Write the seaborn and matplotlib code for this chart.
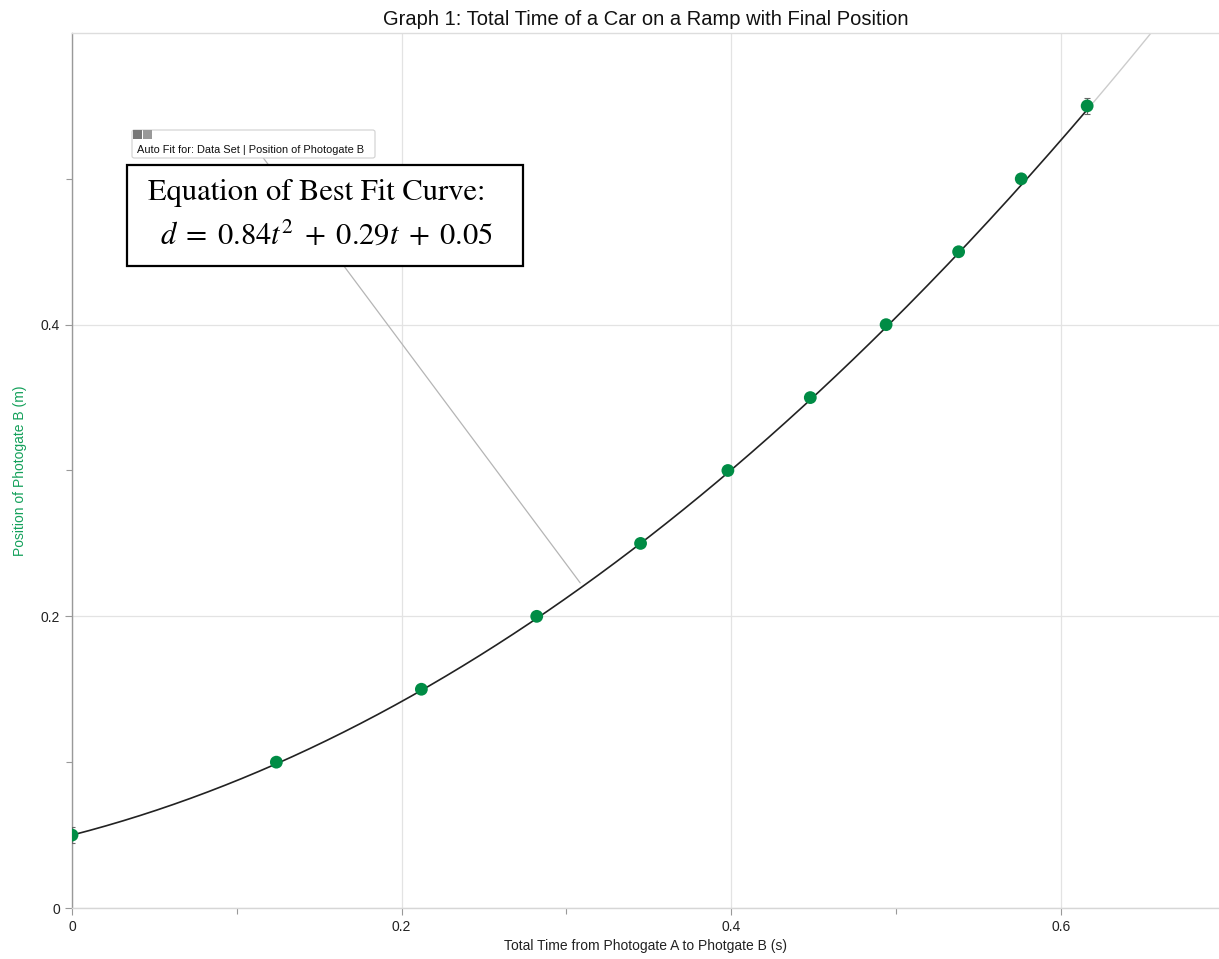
import numpy as np
import pandas as pd
import matplotlib
matplotlib.use("Agg")
import matplotlib.pyplot as plt
import seaborn as sns
from matplotlib.ticker import FixedLocator
from matplotlib.patches import Rectangle, FancyBboxPatch

# ---- data ----
time_s = [0.0, 0.124, 0.212, 0.282, 0.345, 0.398, 0.448, 0.494, 0.538, 0.576, 0.616]
position_m = [0.05, 0.10, 0.15, 0.20, 0.25, 0.30, 0.35, 0.40, 0.45, 0.50, 0.55]
fit_coeffs = [0.84, 0.29, 0.05]  # d = a t^2 + b t + c
x_ticks = [0, 0.2, 0.4, 0.6]
y_ticks = [0, 0.2, 0.4]
title = "Graph 1: Total Time of a Car on a Ramp with Final Position"
x_label = "Total Time from Photogate A to Photgate B (s)"
y_label = "Position of Photogate B (m)"

sns.set_style("white")
plt.rcParams['font.family'] = ['Liberation Sans', 'DejaVu Sans']
plt.rcParams['mathtext.fontset'] = 'stix'

fig = plt.figure(figsize=(12.19, 9.59), dpi=100)
ax = fig.add_axes([72/1219, 51/959, 1 - 72/1219, (908-33)/959])

xmax, ymax = 0.696, 0.6
ax.set_xlim(0, xmax)
ax.set_ylim(0, ymax)

# fit curve: black over data range, grey extension beyond
t_in = np.linspace(min(time_s), max(time_s), 300)
t_out = np.linspace(max(time_s), xmax, 100)
fit_in = pd.DataFrame({"t": t_in, "d": np.polyval(fit_coeffs, t_in)})
fit_out = pd.DataFrame({"t": t_out, "d": np.polyval(fit_coeffs, t_out)})
sns.lineplot(data=fit_out, x="t", y="d", ax=ax, color="#cccccc", linewidth=1.0, zorder=2)
sns.lineplot(data=fit_in, x="t", y="d", ax=ax, color="#222222", linewidth=1.2, zorder=3)

# small error brackets at first and last points
for i in [0, len(time_s) - 1]:
    ax.errorbar(time_s[i], position_m[i], yerr=0.0055, fmt="none", ecolor="#666666",
                elinewidth=0.8, capsize=2.5, capthick=0.8, zorder=3)

pts = pd.DataFrame({"t": time_s, "d": position_m})
sns.scatterplot(data=pts, x="t", y="d", ax=ax, color="#008C45", s=85, edgecolor="none", zorder=4)

# ticks and grid
ax.xaxis.set_major_locator(FixedLocator(x_ticks))
ax.yaxis.set_major_locator(FixedLocator(y_ticks))
ax.xaxis.set_minor_locator(FixedLocator([0.1, 0.3, 0.5]))
ax.yaxis.set_minor_locator(FixedLocator([0.1, 0.3, 0.5]))
ax.set_xticklabels(["0", "0.2", "0.4", "0.6"])
ax.set_yticklabels(["0", "0.2", "0.4"])
ax.grid(True, which="major", color="#e3e3e3", linewidth=0.9, zorder=0)
ax.set_axisbelow(True)
ax.tick_params(axis="both", which="major", direction="out", length=5, width=0.8,
               color="#999999", labelsize=10, labelcolor="#222222", bottom=True, left=True)
ax.tick_params(axis="both", which="minor", direction="out", length=4, width=0.8,
               color="#999999", bottom=True, left=True)

for name, sp in ax.spines.items():
    sp.set_linewidth(1.0)
ax.spines["left"].set_color("#999999")
ax.spines["bottom"].set_color("#d6d6d6")
ax.spines["top"].set_color("#dddddd")
ax.spines["right"].set_visible(False)

ax.set_xlabel(x_label, fontsize=10, color="#222222", labelpad=4)
ax.set_ylabel(y_label, fontsize=10, color="#13a05a", va="center")
ax.yaxis.set_label_coords(-52/1147, 0.5)
ax.set_title(title, fontsize=14.5, color="#111111", pad=6)

# leader line from auto fit label to curve
ax.plot([(263-72)/1647.5, (580-72)/1647.5], [(908-158)/1457.5, (908-583)/1457.5],
        color="#b5b5b5", linewidth=0.9, zorder=2)

# auto fit label box
fig.patches.append(FancyBboxPatch((132/1219, 1 - 158/959), (375-132)/1219, (158-130)/959,
                                  boxstyle="round,pad=0,rounding_size=0.002",
                                  transform=fig.transFigure, fc="white", ec="#d0d0d0",
                                  lw=0.8, zorder=5))
fig.text(137/1219, 1 - 150/959, "Auto Fit for: Data Set | Position of Photogate B",
         fontsize=7.9, color="#111111", va="center", ha="left", zorder=6)
fig.patches.append(Rectangle((133/1219, 1 - 139/959), 9/1219, 9/959, transform=fig.transFigure,
                             fc="#777777", ec="none", zorder=6))
fig.patches.append(Rectangle((143/1219, 1 - 139/959), 9/1219, 9/959, transform=fig.transFigure,
                             fc="#999999", ec="none", zorder=6))

# equation box
fig.patches.append(Rectangle((127/1219, 1 - 266/959), (523-127)/1219, (266-165)/959,
                             transform=fig.transFigure, fc="white", ec="black", lw=1.6, zorder=7))
fig.text(148/1219, 1 - 193/959, "Equation of Best Fit Curve:", fontsize=22,
         fontname="STIXGeneral", color="black", va="center", ha="left", zorder=8)
fig.text(160/1219, 1 - 236/959,
         r"$d\;=\;%.2ft^{2}\;+\;%.2ft\;+\;%.2f$" % tuple(fit_coeffs), fontsize=22,
         color="black", va="center", ha="left", zorder=8)

fig.savefig("out.png", dpi=100)
